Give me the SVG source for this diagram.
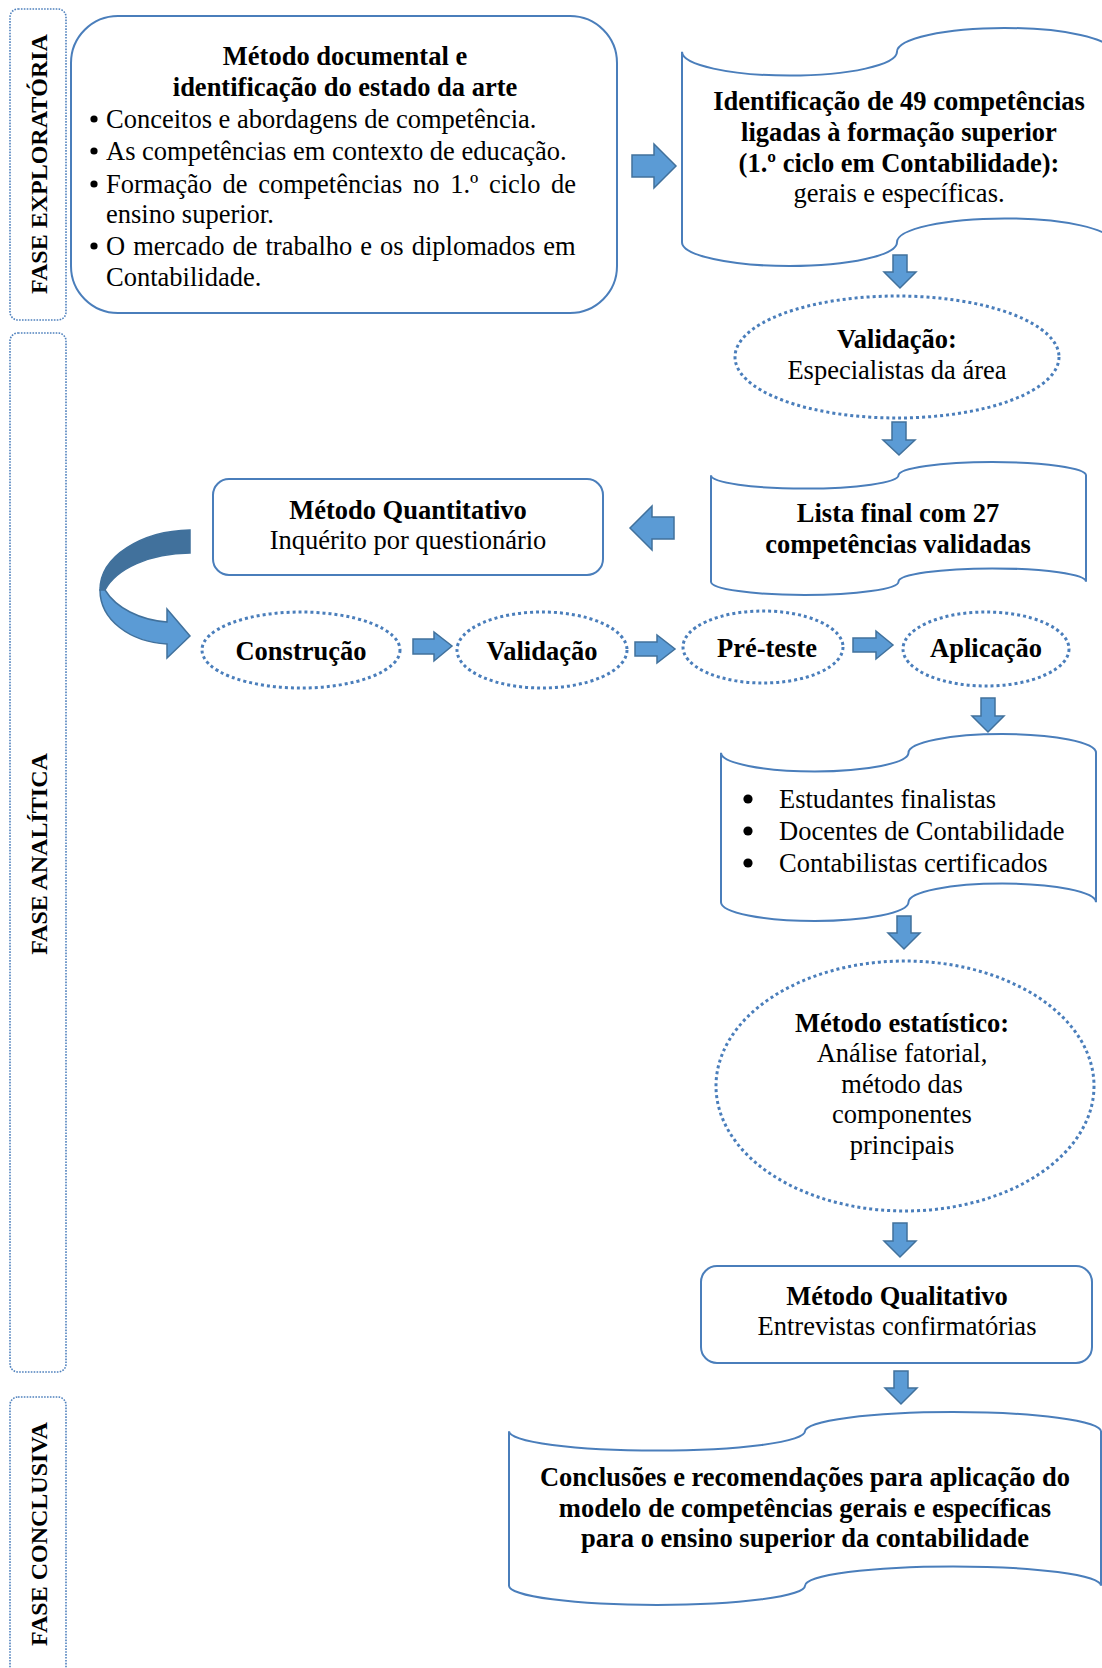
<svg xmlns="http://www.w3.org/2000/svg" width="1102" height="1668" viewBox="0 0 1102 1668">
<style>
text{font-family:"Liberation Serif","Times New Roman",serif;font-size:26.5px;fill:#000}
.b{font-weight:bold}
.c{text-anchor:middle}
.lab{font-family:"Liberation Serif","Times New Roman",serif;font-size:24px;font-weight:bold;text-anchor:middle}
.phase{fill:none;stroke:#4F81BD;stroke-width:1.6;stroke-dasharray:1.6 1.3}
.shape{fill:#fff;stroke:#4A7EBB;stroke-width:2}
.dot{fill:#fff;stroke:#4A7EBB;stroke-width:3;stroke-dasharray:3 3}
.arr{fill:#5B9BD5;stroke:#41719C;stroke-width:1.5;stroke-linejoin:miter}
.dark{fill:#41719C;stroke:#41719C;stroke-width:1.5}
.bl{fill:#000}
</style>
<rect width="1102" height="1668" fill="#fff"/>

<g id="phase-exploratoria">
<rect class="phase" x="10" y="9" width="56" height="311" rx="8"/>
<text class="lab" transform="translate(47,164) rotate(-90)">FASE EXPLORATÓRIA</text>
</g>
<g id="phase-analitica">
<rect class="phase" x="10" y="333" width="56" height="1039" rx="8"/>
<text class="lab" transform="translate(47,854) rotate(-90)">FASE ANALÍTICA</text>
</g>
<g id="phase-conclusiva">
<rect class="phase" x="10" y="1397" width="56" height="290" rx="8"/>
<text class="lab" transform="translate(47,1534) rotate(-90)">FASE CONCLUSIVA</text>
</g>

<g id="metodo-documental">
<rect class="shape" x="71" y="16" width="546" height="297" rx="47"/>
<text class="b c" x="345" y="65">Método documental e</text>
<text class="b c" x="345" y="96">identificação do estado da arte</text>
<circle class="bl" cx="94" cy="119" r="3.6"/><text x="106" y="128">Conceitos e abordagens de competência.</text>
<circle class="bl" cx="94" cy="151" r="3.6"/><text x="106" y="160">As competências em contexto de educação.</text>
<circle class="bl" cx="94" cy="184" r="3.6"/><text x="106" y="193" word-spacing="4">Formação de competências no 1.º ciclo de</text>
<text x="106" y="223">ensino superior.</text>
<circle class="bl" cx="94" cy="246" r="3.6"/><text x="106" y="255" word-spacing="1.4">O mercado de trabalho e os diplomados em</text>
<text x="106" y="286">Contabilidade.</text>
</g>

<g id="identificacao">
<path class="shape" d="M682,51.8 A107.5,23.8 0 0 0 897,51.8 A107.5,23.8 0 0 1 1112,51.8 L1112,242.2 A107.5,23.8 0 0 0 897,242.2 A107.5,23.8 0 0 1 682,242.2 Z"/>
<text class="b c" x="899" y="110">Identificação de 49 competências</text>
<text class="b c" x="899" y="141">ligadas à formação superior</text>
<text class="b c" x="899" y="172">(1.º ciclo em Contabilidade):</text>
<text class="c" x="899" y="202">gerais e específicas.</text>
</g>

<g id="validacao-especialistas">
<ellipse class="dot" cx="897" cy="357" rx="162" ry="61"/>
<text class="b c" x="897" y="348">Validação:</text>
<text class="c" x="897" y="379">Especialistas da área</text>
</g>

<g id="lista-final">
<path class="shape" d="M711,475.3 A93.75,13.3 0 0 0 898.5,475.3 A93.75,13.3 0 0 1 1086,475.3 L1086,581.7 A93.75,13.3 0 0 0 898.5,581.7 A93.75,13.3 0 0 1 711,581.7 Z"/>
<text class="b c" x="898" y="522">Lista final com 27</text>
<text class="b c" x="898" y="553">competências validadas</text>
</g>

<g id="metodo-quantitativo">
<rect class="shape" x="213" y="479" width="390" height="96" rx="16"/>
<text class="b c" x="408" y="519">Método Quantitativo</text>
<text class="c" x="408" y="549">Inquérito por questionário</text>
</g>

<g id="construcao">
<ellipse class="dot" cx="301" cy="650" rx="99" ry="38"/>
<text class="b c" x="301" y="660">Construção</text>
</g>
<g id="validacao">
<ellipse class="dot" cx="542" cy="650" rx="85" ry="38"/>
<text class="b c" x="542" y="660">Validação</text>
</g>
<g id="pre-teste">
<ellipse class="dot" cx="763" cy="647" rx="80" ry="36"/>
<text class="b c" x="767" y="657">Pré-teste</text>
</g>
<g id="aplicacao">
<ellipse class="dot" cx="986" cy="649" rx="83" ry="37"/>
<text class="b c" x="986" y="657">Aplicação</text>
</g>

<g id="populacao">
<path class="shape" d="M721,752.7 A93.75,18.7 0 0 0 908.5,752.7 A93.75,18.7 0 0 1 1096,752.7 L1096,902.3 A93.75,18.7 0 0 0 908.5,902.3 A93.75,18.7 0 0 1 721,902.3 Z"/>
<circle class="bl" cx="748" cy="799" r="4.6"/><text x="779" y="808">Estudantes finalistas</text>
<circle class="bl" cx="748" cy="831" r="4.6"/><text x="779" y="840">Docentes de Contabilidade</text>
<circle class="bl" cx="748" cy="863" r="4.6"/><text x="779" y="872">Contabilistas certificados</text>
</g>

<g id="metodo-estatistico">
<ellipse class="dot" cx="905" cy="1086" rx="189" ry="125"/>
<text class="b c" x="902" y="1032">Método estatístico:</text>
<text class="c" x="902" y="1062">Análise fatorial,</text>
<text class="c" x="902" y="1093">método das</text>
<text class="c" x="902" y="1123">componentes</text>
<text class="c" x="902" y="1154">principais</text>
</g>

<g id="metodo-qualitativo">
<rect class="shape" x="701" y="1266" width="391" height="97" rx="16"/>
<text class="b c" x="897" y="1305">Método Qualitativo</text>
<text class="c" x="897" y="1335">Entrevistas confirmatórias</text>
</g>

<g id="conclusoes">
<path class="shape" d="M509,1431.3 A148,19.3 0 0 0 805,1431.3 A148,19.3 0 0 1 1101,1431.3 L1101,1585.7 A148,19.3 0 0 0 805,1585.7 A148,19.3 0 0 1 509,1585.7 Z"/>
<text class="b c" x="805" y="1486">Conclusões e recomendações para aplicação do</text>
<text class="b c" x="805" y="1517">modelo de competências gerais e específicas</text>
<text class="b c" x="805" y="1547">para o ensino superior da contabilidade</text>
</g>

<g id="connectors">
<path class="arr" d="M632,155 L654,155 L654,144 L676,166 L654,188 L654,177 L632,177 Z"/>
<path class="arr" d="M674,517 L652,517 L652,506 L630,528 L652,550 L652,539 L674,539 Z"/>
<path class="arr" d="M893,255 L907,255 L907,272 L916,272 L900,288 L884,272 L893,272 Z"/>
<path class="arr" d="M892,422 L906,422 L906,440 L915,440 L899,455 L883,440 L892,440 Z"/>
<path class="arr" d="M981,698 L995,698 L995,716 L1004,716 L988,732 L972,716 L981,716 Z"/>
<path class="arr" d="M897,916 L911,916 L911,933 L920,933 L904,949 L888,933 L897,933 Z"/>
<path class="arr" d="M893,1223 L907,1223 L907,1241 L916,1241 L900,1257 L884,1241 L893,1241 Z"/>
<path class="arr" d="M894,1371 L908,1371 L908,1388 L917,1388 L901,1404 L885,1388 L894,1388 Z"/>
<path class="arr" d="M413,639 L434,639 L434,632 L452,646 L434,661 L434,654 L413,654 Z"/>
<path class="arr" d="M635,642 L657,642 L657,635 L675,649 L657,663 L657,656 L635,656 Z"/>
<path class="arr" d="M853,638 L876,638 L876,631 L893,645 L876,659 L876,652 L853,652 Z"/>
<path class="dark" d="M190,530 C142,531 100,556 100,590 L105,590 C116,569 150,553 190,553 Z"/>
<path class="arr" d="M100,590 C100,620 130,642 167,644 L167,658 L190,636 L167,609 L167,622 C140,620 116,608 105,590 Z"/>
</g>
</svg>
